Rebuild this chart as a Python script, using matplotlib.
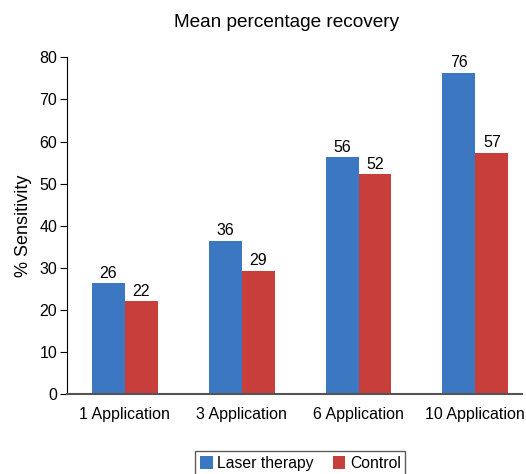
import numpy as np
import matplotlib.pyplot as plt

plt.rcParams['font.family'] = ['Liberation Sans', 'DejaVu Sans']

categories = ['1 Application', '3 Application', '6 Application', '10 Application']
laser = [26.4, 36.4, 56.3, 76.3]
control = [22.1, 29.3, 52.3, 57.3]
laser_labels = ['26', '36', '56', '76']
control_labels = ['22', '29', '52', '57']

blue = '#3c78c2'
red = '#c83e3b'

fig = plt.figure(figsize=(5.26, 4.74), dpi=100)
ax = fig.add_axes([0.1274, 0.168, 0.865, 0.711])

x = np.arange(len(categories))
w = 0.282
b1 = ax.bar(x - w / 2, laser, w, color=blue, label='Laser therapy')
b2 = ax.bar(x + w / 2, control, w, color=red, label='Control')

for bars, labels in ((b1, laser_labels), (b2, control_labels)):
    for rect, lab in zip(bars, labels):
        ax.text(rect.get_x() + rect.get_width() / 2, rect.get_height() + 0.6, lab,
                ha='center', va='bottom', fontsize=11.5)

ax.set_xlim(-0.496, 3.40)
ax.set_ylim(0, 80)
ax.set_yticks(range(0, 81, 10))
ax.set_xticks(x)
ax.set_xticklabels(categories, fontsize=11.5)
ax.tick_params(axis='x', length=0, pad=9)
ax.tick_params(axis='y', length=5, labelsize=11.5, pad=2)
ax.set_ylabel('% Sensitivity', fontsize=13, labelpad=5)
ax.set_title('Mean percentage recovery', fontsize=13.7, pad=22, x=0.483)

ax.spines['top'].set_visible(False)
ax.spines['right'].set_visible(False)
ax.spines['bottom'].set_color('#555555')
ax.spines['bottom'].set_linewidth(1.5)

leg = fig.legend(loc='lower center', bbox_to_anchor=(0.571, -0.02), ncol=2,
                 fontsize=11.3, frameon=True, fancybox=False, handlelength=0.8,
                 handleheight=0.9, handletextpad=0.3, columnspacing=1.2,
                 borderpad=0.3)
leg.get_frame().set_edgecolor('#333333')
leg.get_frame().set_linewidth(1.0)

fig.savefig('out.png', dpi=100)
